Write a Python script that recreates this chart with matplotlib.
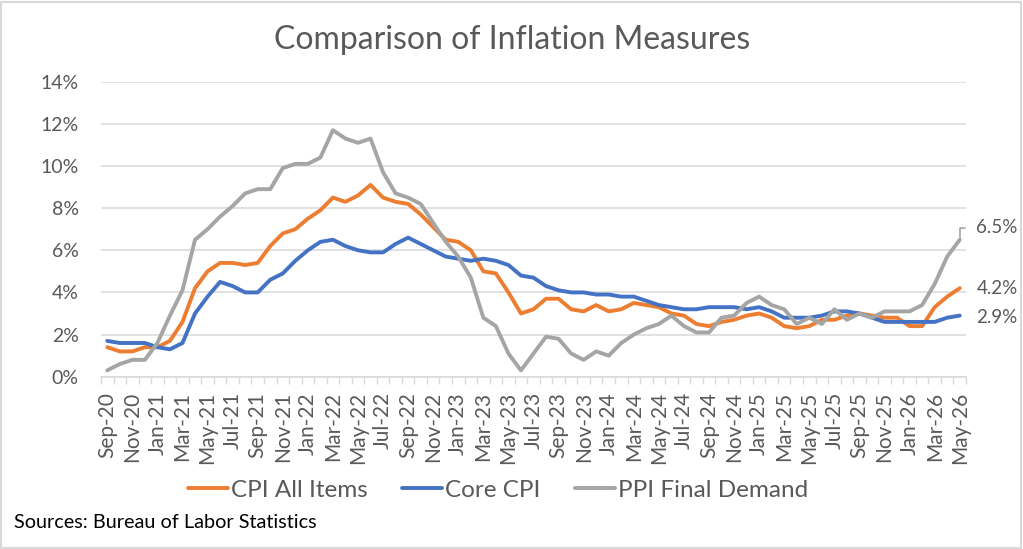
import matplotlib
matplotlib.use("Agg")
import matplotlib.pyplot as plt
from matplotlib.patches import Rectangle

months = ["Sep-20","Oct-20","Nov-20","Dec-20","Jan-21","Feb-21","Mar-21","Apr-21","May-21","Jun-21","Jul-21","Aug-21",
          "Sep-21","Oct-21","Nov-21","Dec-21","Jan-22","Feb-22","Mar-22","Apr-22","May-22","Jun-22","Jul-22","Aug-22",
          "Sep-22","Oct-22","Nov-22","Dec-22","Jan-23","Feb-23","Mar-23","Apr-23","May-23","Jun-23","Jul-23","Aug-23",
          "Sep-23","Oct-23","Nov-23","Dec-23","Jan-24","Feb-24","Mar-24","Apr-24","May-24","Jun-24","Jul-24","Aug-24",
          "Sep-24","Oct-24","Nov-24","Dec-24","Jan-25","Feb-25","Mar-25","Apr-25","May-25","Jun-25","Jul-25","Aug-25",
          "Sep-25","Oct-25","Nov-25","Dec-25","Jan-26","Feb-26","Mar-26","Apr-26","May-26"]

cpi_all = [1.4,1.2,1.2,1.4,1.4,1.7,2.6,4.2,5.0,5.4,5.4,5.3,
           5.4,6.2,6.8,7.0,7.5,7.9,8.5,8.3,8.6,9.1,8.5,8.3,
           8.2,7.7,7.1,6.5,6.4,6.0,5.0,4.9,4.0,3.0,3.2,3.7,
           3.7,3.2,3.1,3.4,3.1,3.2,3.5,3.4,3.3,3.0,2.9,2.5,
           2.4,2.6,2.7,2.9,3.0,2.8,2.4,2.3,2.4,2.7,2.7,2.9,
           3.0,2.9,2.8,2.8,2.4,2.4,3.3,3.8,4.2]

core_cpi = [1.7,1.6,1.6,1.6,1.4,1.3,1.6,3.0,3.8,4.5,4.3,4.0,
            4.0,4.6,4.9,5.5,6.0,6.4,6.5,6.2,6.0,5.9,5.9,6.3,
            6.6,6.3,6.0,5.7,5.6,5.5,5.6,5.5,5.3,4.8,4.7,4.3,
            4.1,4.0,4.0,3.9,3.9,3.8,3.8,3.6,3.4,3.3,3.2,3.2,
            3.3,3.3,3.3,3.2,3.3,3.1,2.8,2.8,2.8,2.9,3.1,3.1,
            3.0,2.8,2.6,2.6,2.6,2.6,2.6,2.8,2.9]

ppi_final = [0.3,0.6,0.8,0.8,1.6,2.9,4.1,6.5,7.0,7.6,8.1,8.7,
             8.9,8.9,9.9,10.1,10.1,10.4,11.7,11.3,11.1,11.3,9.7,8.7,
             8.5,8.2,7.3,6.4,5.7,4.7,2.8,2.4,1.1,0.3,1.1,1.9,
             1.8,1.1,0.8,1.2,1.0,1.6,2.0,2.3,2.5,2.9,2.4,2.1,
             2.1,2.8,2.9,3.5,3.8,3.4,3.2,2.5,2.8,2.5,3.2,2.7,
             3.0,2.8,3.1,3.1,3.1,3.4,4.4,5.7,6.5]

series_names = ["CPI All Items", "Core CPI", "PPI Final Demand"]
colors = ["#ED7D31", "#4472C4", "#A5A5A5"]
yticks = [0, 2, 4, 6, 8, 10, 12, 14]

FONT = "Lato"
TXT = "#595959"
GRID = "#D9D9D9"

fig = plt.figure(figsize=(10.23, 5.49), dpi=100)
ax = fig.add_axes([101/1023, 1 - 376.7/549, 865/1023, 295/549])

x = list(range(len(months)))
handles = []
for vals, name, c in zip([cpi_all, core_cpi, ppi_final], series_names, colors):
    h, = ax.plot(x, vals, color=c, lw=2.8, solid_joinstyle="round", solid_capstyle="round", label=name, zorder=3)
    handles.append(h)

ax.set_xlim(-0.5, len(months) - 0.5)
ax.set_ylim(0, 14)
ax.set_yticks(yticks)
ax.set_yticklabels([f"{v}%" for v in yticks], fontsize=14, color=TXT, family=FONT)
ax.tick_params(axis="y", length=0, pad=16)
ax.grid(axis="y", color=GRID, lw=1.1)
ax.set_axisbelow(True)

ax.set_xticks(x[::2])
ax.set_xticklabels(months[::2], rotation=90, fontsize=15, color=TXT, family=FONT)
ax.set_xticks([i - 0.5 for i in range(len(months) + 1)], minor=True)
ax.tick_params(axis="x", which="major", length=0, pad=11)
ax.tick_params(axis="x", which="minor", length=5, color=GRID, width=1)

for s in ["top", "right", "left"]:
    ax.spines[s].set_visible(False)
ax.spines["bottom"].set_color(GRID)
ax.spines["bottom"].set_linewidth(1.1)

# end labels
last = len(months) - 1
ax.annotate(f"{ppi_final[-1]:.1f}%", xy=(last, ppi_final[-1]), xytext=(12, 8.5), textcoords="offset points",
            fontsize=13.5, color=TXT, family=FONT, va="center", ha="left",
            arrowprops=dict(arrowstyle="-", color="#A5A5A5", lw=1.2, shrinkA=6, shrinkB=1,
                            connectionstyle="angle,angleA=0,angleB=90,rad=0", relpos=(0, 0.5)))
ax.annotate(f"{cpi_all[-1]:.1f}%", xy=(last, cpi_all[-1]), xytext=(12, 0), textcoords="offset points",
            fontsize=13.5, color=TXT, family=FONT, va="center", ha="left")
ax.annotate(f"{core_cpi[-1]:.1f}%", xy=(last, core_cpi[-1]), xytext=(12, -1.5), textcoords="offset points",
            fontsize=13.5, color=TXT, family=FONT, va="center", ha="left")

fig.text(512/1023, 1 - 40/549, "Comparison of Inflation Measures", ha="center", va="center",
         fontsize=23, color=TXT, family=FONT)

leg = fig.legend(handles=handles, labels=series_names, loc="center", bbox_to_anchor=(498/1023, 1 - 490/549),
                 ncol=3, frameon=False, handlelength=1.65, handletextpad=0.12, columnspacing=1.4,
                 prop={"family": FONT, "size": 17.5})
for t in leg.get_texts():
    t.set_color(TXT)

fig.text(14/1023, 1 - 523/549, "Sources: Bureau of Labor Statistics", ha="left", va="center",
         fontsize=14.3, color="black", family=FONT)

fig.patches.append(Rectangle((0.001, 0.002), 0.997, 0.995, transform=fig.transFigure, fill=False,
                             edgecolor=GRID, lw=1.5))

fig.savefig("out.png", dpi=100)
